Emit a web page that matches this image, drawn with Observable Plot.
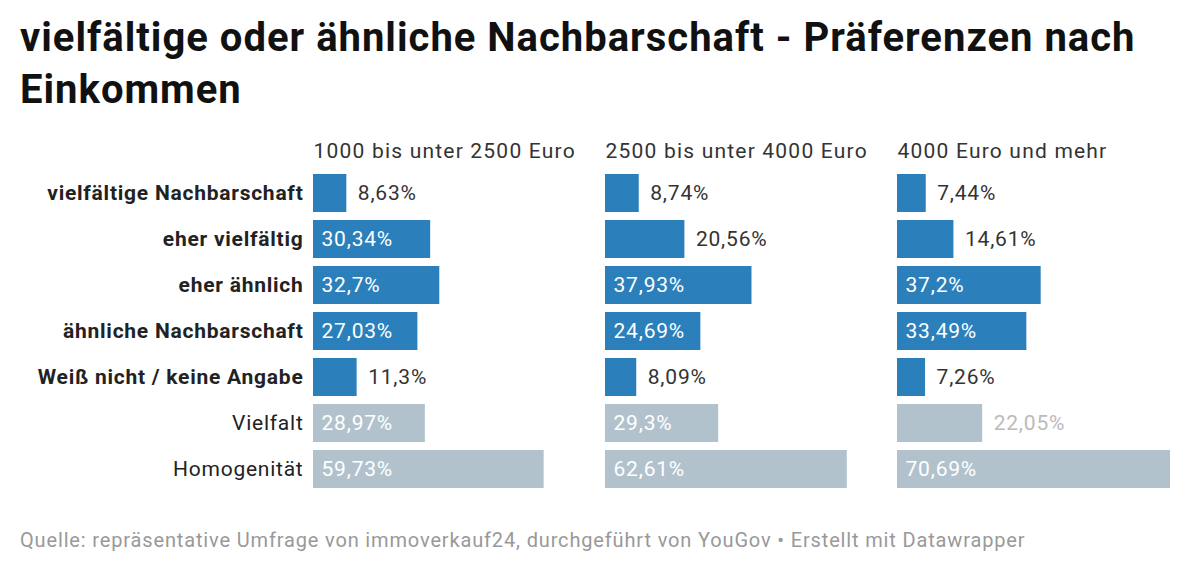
<!DOCTYPE html>
<html>
<head>
<meta charset="utf-8">
<script src="https://cdn.jsdelivr.net/npm/d3@7"></script>
<script src="https://cdn.jsdelivr.net/npm/@observablehq/plot@0.6"></script>
<style>
  body { margin: 0; background: #fff; font-family: Roboto, "Noto Sans", sans-serif; position: relative; width: 1200px; height: 573px; overflow: hidden; }
  #title { position: absolute; left: 20px; top: 12px; font-size: 40px; font-weight: 700; line-height: 52px; color: #111; width: 1170px; letter-spacing: 1.0px; }
  #chart { position: absolute; left: 0; top: 125px; }
  #footer { position: absolute; left: 20px; top: 528px; font-size: 20px; line-height: 24px; color: #999; letter-spacing: 0.85px; white-space: nowrap; }
  .vlabel text { letter-spacing: 0.8px; }
  .rlabel text { letter-spacing: 0.75px; }
  .header text { letter-spacing: 1.2px; }
</style>
</head>
<body>
<div id="title">vielfältige oder ähnliche Nachbarschaft - Präferenzen nach Einkommen</div>
<div id="chart"></div>
<div id="footer">Quelle: repräsentative Umfrage von immoverkauf24, durchgeführt von YouGov • Erstellt mit Datawrapper</div>
<script>
const groups = ["1000 bis unter 2500 Euro", "2500 bis unter 4000 Euro", "4000 Euro und mehr"];
const categories = ["vielfältige Nachbarschaft", "eher vielfältig", "eher ähnlich", "ähnliche Nachbarschaft", "Weiß nicht / keine Angabe", "Vielfalt", "Homogenität"];
const summaryCategories = ["Vielfalt", "Homogenität"];
const values1000to2500 = [8.63, 30.34, 32.7, 27.03, 11.3, 28.97, 59.73];
const values2500to4000 = [8.74, 20.56, 37.93, 24.69, 8.09, 29.3, 62.61];
const values4000plus = [7.44, 14.61, 37.2, 33.49, 7.26, 22.05, 70.69];

const seriesValues = [values1000to2500, values2500to4000, values4000plus];
const rows = [];
groups.forEach((g, gi) => {
  categories.forEach((c, ci) => {
    const v = seriesValues[gi][ci];
    rows.push({group: g, category: c, value: v, summary: summaryCategories.includes(c), inside: v > 23});
  });
});
const fmt = v => v.toLocaleString("de-DE") + "%";
const blue = "#2b80bb", gray = "#b2c2cd";

const chart = Plot.plot({
  width: 1200,
  height: 375,
  marginLeft: 312,
  marginRight: 30,
  marginTop: 43,
  marginBottom: 7,
  style: {fontFamily: "Roboto, sans-serif", fontSize: "21px", color: "#333"},
  x: {domain: [0, 70.69], axis: null},
  y: {domain: categories, paddingInner: 0.18, paddingOuter: 0.09, axis: null},
  fx: {domain: groups, paddingInner: 0.0667, paddingOuter: 0, axis: null},
  marks: [
    Plot.barX(rows, {fx: "group", y: "category", x: "value", fill: d => d.summary ? gray : blue}),
    Plot.text(rows.filter(d => d.inside), {fx: "group", y: "category", x: 0, text: d => fmt(d.value), textAnchor: "start", dx: 8, fill: "white", fontSize: 21, className: "vlabel"}),
    Plot.text(rows.filter(d => !d.inside && !d.summary), {fx: "group", y: "category", x: "value", text: d => fmt(d.value), textAnchor: "start", dx: 11, fill: "#333", fontSize: 21, className: "vlabel"}),
    Plot.text(rows.filter(d => !d.inside && d.summary), {fx: "group", y: "category", x: "value", text: d => fmt(d.value), textAnchor: "start", dx: 11, fill: "#bbb", fontSize: 21, className: "vlabel"}),
    Plot.text(rows.filter(d => d.group === groups[0] && !d.summary), {fx: "group", y: "category", frameAnchor: "left", text: "category", textAnchor: "end", dx: -10, fontWeight: "bold", fill: "#222", fontSize: 21, className: "rlabel"}),
    Plot.text(rows.filter(d => d.group === groups[0] && d.summary), {fx: "group", y: "category", frameAnchor: "left", text: "category", textAnchor: "end", dx: -10, fill: "#222", fontSize: 21, className: "rlabel"}),
    Plot.text(groups, {fx: d => d, text: d => d, frameAnchor: "top-left", textAnchor: "start", lineAnchor: "top", dy: -25, fill: "#333", fontSize: 21, className: "header"})
  ]
});
document.getElementById("chart").appendChild(chart);
</script>
</body>
</html>
